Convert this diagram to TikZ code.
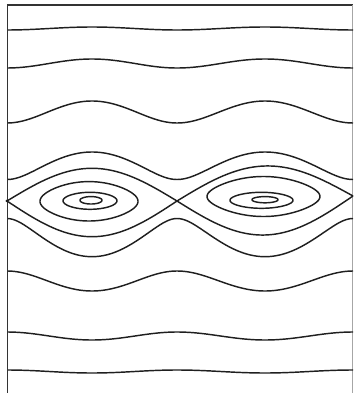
\documentclass[tikz,border=0pt]{standalone}
\begin{document}
\begin{tikzpicture}[x=1pt,y=1pt,
  orbit/.style={line width=1.45pt, color=black!88, line join=round},
  frame/.style={line width=1.5pt, color=black!80}]
\useasboundingbox (0,0) rectangle (353,-393);
% frame
\draw[frame] (7.5,-393) -- (7.5,-5);
\draw[line width=1.1pt, color=black!80] (6.8,-5) -- (353,-5);
\draw[line width=0.6pt, color=black!35] (352.3,-5) -- (352.3,-393);
% rotating orbits: y = 200 -/+ 10*sqrt(a + b cos(theta))
\foreach \s/\a/\b in {-1/294.145/5.145, -1/186.525/12.285, -1/78.65/19.36, -1/13.621/9.419,
                       1/17.786/14.363, 1/66.61/16.2, 1/185.12/10.88, 1/294.145/5.145}{
  \draw[orbit] plot[domain=8:177, samples=70, variable=\x]
      (\x, {-(200 + \s*10*sqrt(\a + \b*cos((\x-92)/85*180)))})
    -- plot[domain=177:353, samples=70, variable=\x]
      (\x, {-(200 + \s*10*sqrt(\a + \b*cos((\x-265)/88*180)))});
}
% separatrix, left eye
\draw[orbit] plot[domain=6:177, samples=80, variable=\x]
   (\x, {-(201 - 32.7*cos((\x-92)/85*90))});
\draw[orbit] plot[domain=6:177, samples=80, variable=\x]
   (\x, {-(201 + 35.7*cos((\x-92)/85*90))});
% separatrix, right eye
\draw[orbit] plot[domain=177:353, samples=80, variable=\x]
   (\x, {-(201 - 5*(\x-177)/176 - 32.5*cos((\x-265)/88*90))});
\draw[orbit] plot[domain=177:353, samples=80, variable=\x]
   (\x, {-(201 - 5*(\x-177)/176 + 36.5*cos((\x-265)/88*90))});
% closed orbits
\foreach \xc/\hw/\k/\H/\yc in {89/85/0.787/19.7/201.3, 90/85/0.478/8.5/200.8, 91/85/0.202/3.7/200.3,
                               263.5/88/0.846/20/196.5, 261.5/88/0.533/8/200.3, 265/88/0.23/3.1/199.7}{
  \draw[orbit] plot[domain=0:360, samples=121, variable=\t, smooth]
     ({\xc + \hw/90*asin(\k*sin(\t))}, {-(\yc - \H*cos(\t))}) -- cycle;
}
\end{tikzpicture}
\end{document}
